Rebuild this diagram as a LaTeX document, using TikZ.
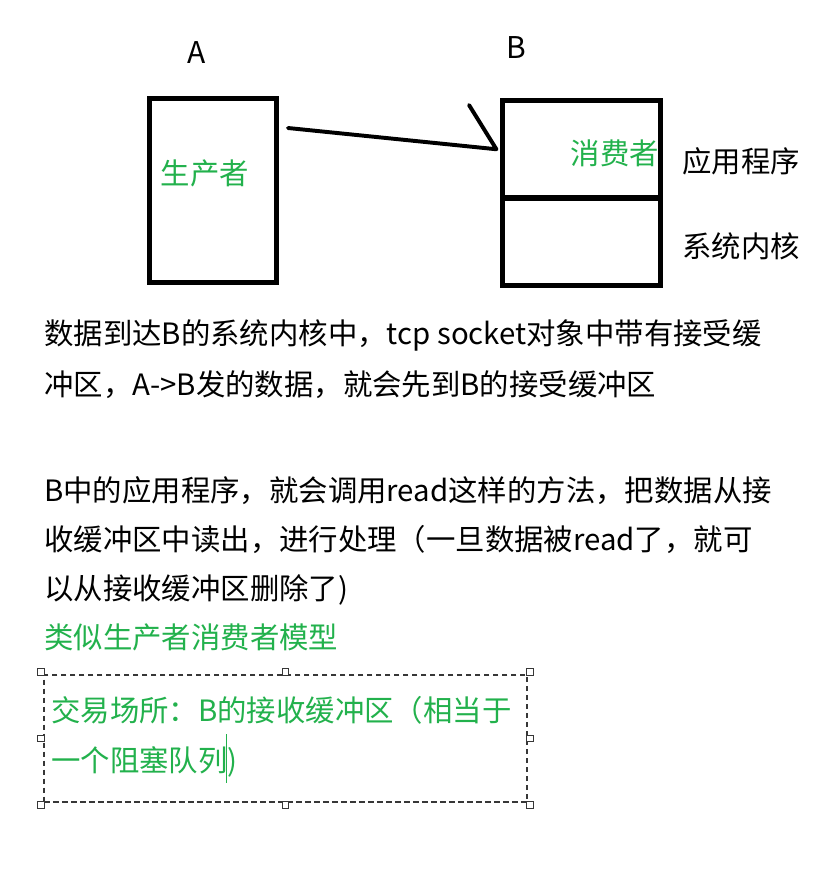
\documentclass[tikz,border=0pt]{standalone}
\usepackage{fontspec}
\setmainfont{Noto Sans CJK SC}
\usepackage{xcolor}
\usepackage{tikz}

\definecolor{paintgreen}{RGB}{34,177,76}
\definecolor{handlegray}{RGB}{55,55,55}

\begin{document}
\begin{tikzpicture}[x=0.025cm, y=-0.025cm,
  box/.style={draw, line width=3.6pt, inner sep=0pt},
  txt/.style={inner sep=0pt, font=\fontsize{20.9pt}{25pt}\selectfont,
    text height=18.4pt, text depth=2.5pt},
  linetxt/.style={txt, anchor=west},
  greentxt/.style={txt, text=paintgreen},
  handle/.style={draw=handlegray, fill=white, line width=0.8pt,
    minimum size=0.17cm, inner sep=0pt}]

\useasboundingbox (0,0) rectangle (823,874);

% Rechner A
\node[box, minimum width=3.175cm, minimum height=4.6cm] (boxA) at (213,190.5) {};
\node (labA) at (197,53) [inner sep=0pt, font=\fontsize{21.3pt}{25pt}\selectfont] {A};
\node[greentxt] (prod) at (205,173) {生产者};

% Rechner B (Anwendung oben, Kern unten)
\node[box, minimum width=3.94cm, minimum height=2.44cm] (app) at (581.75,149.25) {};
\node[box, minimum width=3.94cm, minimum height=2.19cm] (kern) at (581.75,241.75) {};
\node (labB) at (516,48) [inner sep=0pt, font=\fontsize{21.3pt}{25pt}\selectfont] {B};
\node[greentxt] (cons) at (615,153) {消费者};
\node[txt] (appname) at (741,161) {应用程序};
\node[txt] (kernname) at (741,246) {系统内核};

% Pfeil A -> B
\coordinate (tail) at (288,128);
\coordinate (tip) at ([xshift=-1mm]app.west);
\coordinate (barb) at (469,105);
\draw[line width=2.8pt, line cap=round, line join=round] (tail) -- (tip) -- (barb);

% Erklaerung
\node[linetxt] (p1a) at (44,333) {数据到达B的系统内核中，tcp socket对象中带有接受缓};
\node[linetxt] (p1b) at (44,384) {冲区，A->B发的数据，就会先到B的接受缓冲区};

\node[linetxt] (p2a) at (44,490) {B中的应用程序，就会调用read这样的方法，把数据从接};
\node[linetxt] (p2b) at (44,539) {收缓冲区中读出，进行处理（一旦数据被read了，就可};
\node[linetxt] (p2c) at (44,588) {以从接收缓冲区删除了)};
\node[linetxt, text=paintgreen] (model) at (44,637) {类似生产者消费者模型};

% Auswahlrahmen
\node[draw=handlegray, dash pattern=on 4pt off 2.4pt, line width=0.9pt,
  minimum width=12.075cm, minimum height=3.175cm, outer sep=0.075cm] (market) at (285.5,738.5) {};
\foreach \a in {north west, north, north east, west, east, south west, south, south east}
  \node[handle] at (market.\a) {};
\node[linetxt, text=paintgreen] (m1) at (51,710) {交易场所：B的接收缓冲区（相当于};
\node[linetxt, text=paintgreen] (m2) at (51,760) {一个阻塞队列)};
\draw[paintgreen, line width=0.7pt] (226,734) -- (226,783);

\end{tikzpicture}
\end{document}
